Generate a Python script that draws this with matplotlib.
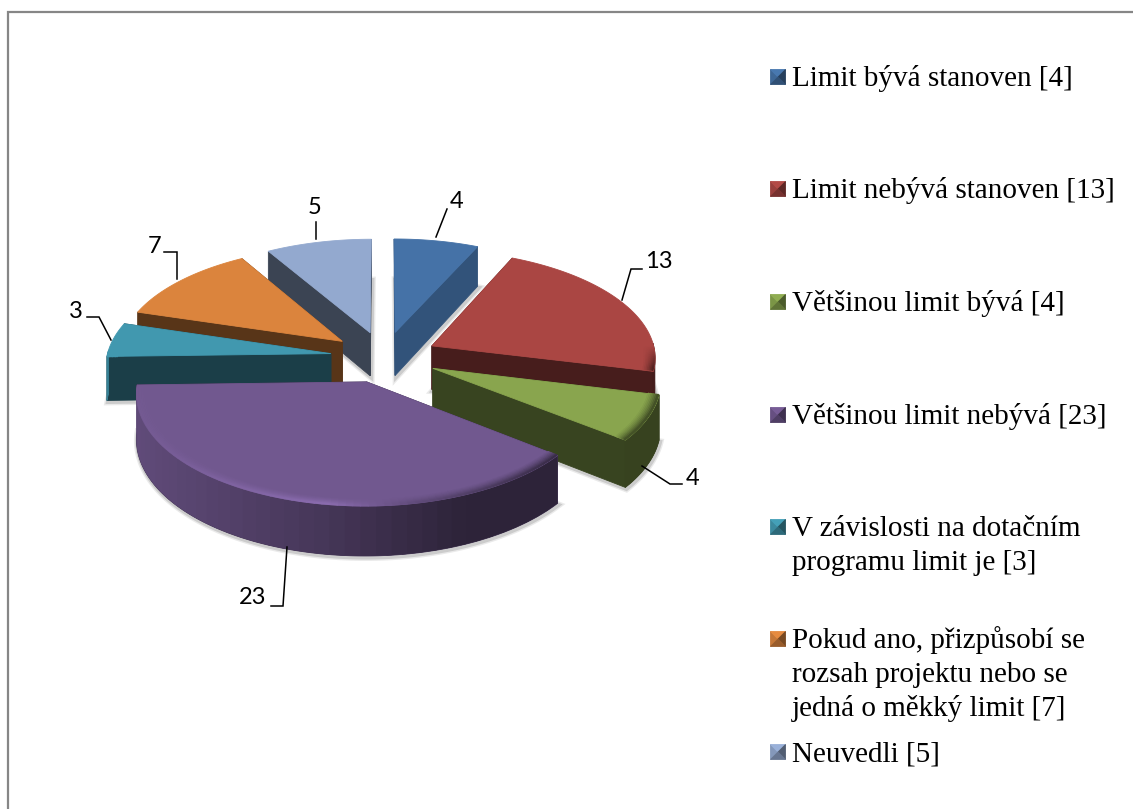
import numpy as np
import matplotlib
matplotlib.use("Agg")
import matplotlib.pyplot as plt
from matplotlib.patches import Polygon

# data
labels = ["Limit bývá stanoven [4]", "Limit nebývá stanoven [13]", "Většinou limit bývá [4]",
          "Většinou limit nebývá [23]", "V závislosti na dotačním\nprogramu limit je [3]",
          "Pokud ano, přizpůsobí se\nrozsah projektu nebo se\njedná o měkký limit [7]", "Neuvedli [5]"]
values = [4, 13, 4, 23, 3, 7, 5]
colors = ["#4572A7", "#AA4643", "#89A54E", "#71588F", "#4198AF", "#DB843D", "#93A9CF"]
face_shade = [0.73, 0.42, 0.41, 0.42, 0.41, 0.4, 0.4]

# pie geometry, in pixels of the figure
CX, CY = 384, 357
R, A, K = 224, 107, 0.0966
DEPTH = 44
EXPLODE = 0.24

# layout of the texts
legend_y = [77, 189, 302, 415, 527, 639, 752]
line_step = 34
value_pos = [(457, 201), (659, 261), (693, 478), (253, 597), (76, 311), (155, 246), (315, 207)]
leaders = [[(447, 209), (436, 237)],
           [(642, 269), (631, 269), (622, 300)],
           [(642, 466), (670, 484), (682, 484)],
           [(287, 547), (283, 606), (271, 606)],
           [(87, 317), (99, 317), (111, 340)],
           [(164, 252), (177, 252), (177, 279)],
           [(316, 222), (316, 239)]]


def project(u, v, drop=0.0):
    s = 1.0 / (1.0 - K * v)
    return CX + R * u * s, CY + A * v * s + drop * s


def shade(color, f):
    c = np.array(matplotlib.colors.to_rgb(color)) * f
    return tuple(np.clip(c, 0, 1))


def wall_factor(x):
    return np.interp(x, [138, 330, 470, 560], [0.85, 0.62, 0.4, 0.4])


def poly(ax, pts, color, **kw):
    ax.add_patch(Polygon(pts, closed=True, facecolor=color, edgecolor=color, linewidth=0.6, **kw))


def draw_slice(ax, start, end, color, face_f):
    mid = (start + end) / 2
    ou, ov = EXPLODE * np.sin(mid), -EXPLODE * np.cos(mid)
    t = np.linspace(start, end, 240)
    us, vs = np.sin(t), -np.cos(t)
    top = [project(ou, ov)] + [project(ou + u, ov + v) for u, v in zip(us, vs)]
    low = [project(ou, ov, DEPTH)] + [project(ou + u, ov + v, DEPTH) for u, v in zip(us, vs)]

    # soft shadow under the lower edge
    for w, a in [(5, 0.12), (3, 0.2)]:
        ax.add_patch(Polygon([(x + 1, y + 1.5) for x, y in low], closed=True, facecolor="none",
                             edgecolor="#555555", alpha=a, linewidth=w))

    # the two cut faces
    dark = shade(color, face_f)
    poly(ax, [top[0], top[1], low[1], low[0]], dark)
    poly(ax, [top[0], top[-1], low[-1], low[0]], dark)

    # outer wall, only the part that looks to the front
    idx = [i for i in range(1, len(top)) if vs[i - 1] > -0.03]
    if idx:
        a, b = idx[0], idx[-1]
        xm = (top[a][0] + top[b][0]) / 2
        poly(ax, top[a:b + 1] + low[a:b + 1][::-1], shade(color, wall_factor(xm)))
        # strips overlap so no seams show
        for i in range(a, b, 6):
            j = min(i + 8, b)
            ax.add_patch(Polygon(top[i:j + 1] + low[i:j + 1][::-1], closed=True,
                                 facecolor=shade(color, wall_factor(top[i][0])),
                                 edgecolor="none", linewidth=0))

    poly(ax, top, color)

    # bevel along the front rim, fades into the flat top
    for r in np.linspace(0.955, 0.995, 7):
        blend = ((r - 0.945) / 0.05) ** 1.5
        for i in range(0, len(t) - 3, 3):
            if vs[i] > 0.0:
                f = np.interp(project(ou + us[i], ov + vs[i])[0],
                              [138, 330, 420, 560], [1.02, 1.22, 0.85, 0.5])
                f = 1 + (f - 1) * blend * min(vs[i] / 0.2, 1.0)
                p0 = project(ou + r * us[i], ov + r * vs[i])
                p1 = project(ou + r * us[i + 3], ov + r * vs[i + 3])
                ax.plot([p0[0], p1[0]], [p0[1], p1[1]], color=shade(color, f), lw=1.5,
                        solid_capstyle="round")


def legend_marker(ax, x, y, color):
    s = 7.5
    c = (x, y)
    a, b, d, e = (x - s, y - s), (x + s, y - s), (x + s, y + s), (x - s, y + s)
    poly(ax, [e, a, c], shade(color, 0.9))
    poly(ax, [a, b, c], shade(color, 1.05))
    poly(ax, [b, d, c], shade(color, 0.55))
    poly(ax, [d, e, c], shade(color, 0.7))


fig = plt.figure(figsize=(11.33, 8.09), dpi=100)
ax = fig.add_axes([0, 0, 1, 1])
ax.set_xlim(0, 1133)
ax.set_ylim(809, 0)
ax.axis("off")

ax.plot([8, 8, 1133], [809, 12, 12], color="#868686", lw=1.6, solid_joinstyle="miter")

angles = np.cumsum([0] + values) / sum(values) * 2 * np.pi
order = sorted(range(len(values)), key=lambda i: -np.cos((angles[i] + angles[i + 1]) / 2))
for i in order:
    draw_slice(ax, angles[i], angles[i + 1], colors[i], face_shade[i])

for i, v in enumerate(values):
    xs, ys = zip(*leaders[i])
    ax.plot(xs, ys, color="black", lw=1.1, solid_joinstyle="miter")
    ax.text(value_pos[i][0], value_pos[i][1], str(v), family="Lato", fontsize=17,
            ha="center", va="center", color="black")

for i, lab in enumerate(labels):
    legend_marker(ax, 778, legend_y[i], colors[i])
    for j, line in enumerate(lab.split("\n")):
        ax.text(792, legend_y[i] + 9 + j * line_step, line, family="Liberation Serif", fontsize=21,
                ha="left", va="baseline", color="black")

fig.savefig("out.png", dpi=100)
